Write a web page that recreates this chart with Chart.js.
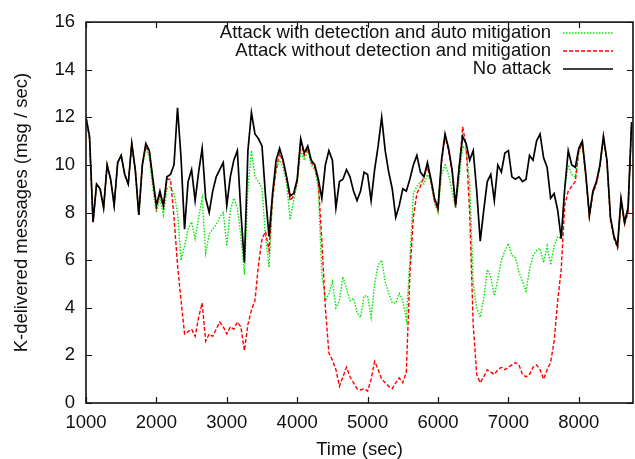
<!DOCTYPE html>
<html>
<head>
<meta charset="utf-8">
<script src="https://cdn.jsdelivr.net/npm/chart.js@4/dist/chart.umd.min.js"></script>
<style>
  html, body { margin: 0; padding: 0; background: #fff; }
  #wrap { width: 635px; height: 459px; }
</style>
</head>
<body>
<div id="wrap"><canvas id="msgChart"></canvas></div>
<script>
// samples every 50 s, starting at 1000 s
const timeStart = 1000;
const timeStep = 50;

const noAttack = [
  12.0, 11.2, 7.6, 9.2, 9.0, 8.2, 10.0, 9.4, 8.3, 10.1,
  10.4, 9.6, 9.2, 10.9, 9.8, 7.9, 10.0, 10.9, 10.6, 9.4,
  8.3, 8.9, 8.3, 9.5, 9.6, 10.0, 12.4, 10.3, 7.3, 9.3,
  9.8, 8.5, 9.7, 10.7, 8.6, 8.0, 8.9, 9.5, 9.8, 10.1,
  8.3, 9.5, 10.2, 10.6, 8.0, 5.9, 10.6, 12.2, 11.3, 11.1,
  10.8, 8.7, 7.0, 8.8, 10.2, 10.7, 10.2, 9.5, 8.7, 8.8,
  9.4, 11.1, 10.5, 10.8, 10.2, 10.0, 9.4, 8.6, 10.0, 10.6,
  10.2, 8.2, 9.3, 9.4, 9.8, 9.5, 8.9, 8.5, 8.9, 9.7,
  9.6, 8.5, 9.8, 10.8, 12.0, 10.6, 9.7, 9.0, 7.8, 8.3,
  9.0, 8.9, 9.4, 10.0, 10.4, 9.7, 9.5, 10.1, 9.4, 8.6,
  8.2, 10.2, 11.3, 10.7, 9.8, 8.3, 9.9, 11.2, 10.9, 10.2,
  10.6, 8.9, 6.8, 8.1, 9.3, 9.6, 8.5, 10.0, 9.7, 10.5,
  10.6, 9.5, 9.4, 9.5, 9.3, 9.4, 10.4, 10.2, 11.0, 11.3,
  10.3, 9.9, 8.6, 8.8, 8.1, 6.9, 9.0, 10.6, 10.0, 9.9,
  10.7, 11.0, 9.6, 7.9, 8.9, 9.3, 10.0, 11.2, 10.2, 7.8,
  7.0, 6.6, 8.6, 7.6, 8.2, 11.8
];

const withoutDetection = [
  12.0, 11.1, 7.6, 9.2, 9.0, 8.2, 10.0, 9.4, 8.3, 10.1,
  10.4, 9.6, 9.2, 10.9, 9.8, 7.9, 10.0, 10.8, 10.5, 9.3,
  8.2, 8.8, 8.2, 9.4, 9.4, 7.8, 5.8, 4.3, 2.9, 3.0,
  3.1, 2.8, 3.6, 4.2, 2.6, 2.9, 2.8, 3.1, 3.4, 3.2,
  2.9, 3.2, 3.1, 3.4, 3.2, 2.2, 3.3, 3.9, 4.3, 5.8,
  6.9, 7.2, 6.4, 8.6, 9.8, 10.5, 10.1, 9.4, 8.5, 8.7,
  9.3, 11.0, 10.4, 10.7, 10.1, 9.9, 9.3, 6.8, 4.0, 2.1,
  1.8, 1.4, 0.7, 1.1, 1.5, 1.1, 0.85, 0.6, 0.55, 0.6,
  0.5, 1.0, 1.75, 1.4, 1.0, 0.85, 0.7, 0.6, 0.85, 1.05,
  0.85, 1.3, 5.4, 7.8, 8.8, 9.1, 9.5, 9.9, 9.3, 8.5,
  8.1, 10.1, 11.2, 10.6, 9.7, 8.2, 9.8, 11.6, 10.8, 8.0,
  3.3, 1.2, 0.85, 1.1, 1.4, 1.3, 1.2, 1.4, 1.5, 1.4,
  1.5, 1.6, 1.7, 1.6, 1.2, 1.1, 1.2, 1.5, 1.6, 1.4,
  1.0, 1.4, 1.7, 2.6, 4.3, 5.6, 8.3, 8.9, 9.1, 9.3,
  10.6, 10.9, 9.5, 7.8, 8.8, 9.2, 9.9, 11.2, 10.1, 7.7,
  6.9, 6.5, 8.5, 7.5, 8.0, 11.7
];

const autoMitigation = [
  12.0, 11.2, 7.6, 9.2, 9.0, 8.2, 10.0, 9.4, 8.3, 10.1,
  10.4, 9.6, 9.2, 10.9, 9.8, 7.9, 9.9, 10.7, 10.3, 9.0,
  8.0, 8.6, 7.9, 9.0, 9.1, 8.8, 8.0, 6.0, 6.6, 7.3,
  7.6, 6.9, 7.8, 8.6, 6.3, 7.1, 7.3, 7.5, 7.8, 8.0,
  6.6, 8.1, 8.6, 8.2, 7.0, 5.4, 9.0, 10.6, 9.5, 9.3,
  9.0, 7.0, 5.7, 8.6, 9.8, 10.2, 9.9, 9.2, 7.7, 8.5,
  9.2, 10.6, 10.2, 10.6, 10.0, 9.8, 9.0, 5.4, 4.3, 4.6,
  5.1, 4.0, 4.3, 5.3, 4.8, 4.3, 4.4, 3.8, 3.6, 4.5,
  4.5, 3.6, 5.0, 5.8, 6.0, 5.1, 4.6, 4.2, 4.2, 4.6,
  4.3, 3.5, 6.0, 8.8, 9.1, 9.3, 9.2, 9.6, 9.3, 8.4,
  8.0, 9.6, 10.0, 9.6, 8.9, 8.2, 9.4, 10.8, 10.6, 9.3,
  5.0, 4.0, 3.6, 4.4, 5.6, 5.3, 4.5, 5.2, 6.0, 6.4,
  6.7, 6.2, 6.1, 5.5, 5.1, 4.7, 5.6, 6.2, 6.4, 6.5,
  5.9, 6.6, 5.8, 6.6, 7.0, 6.9, 9.0, 10.0, 9.6, 9.5,
  10.5, 10.9, 9.5, 7.8, 8.8, 9.2, 9.9, 11.1, 10.1, 7.7,
  6.9, 6.6, 8.5, 7.5, 8.1, 11.6
];

const xTicks = [1000, 2000, 3000, 4000, 5000, 6000, 7000, 8000];
const yTicks = [0, 2, 4, 6, 8, 10, 12, 14, 16];

const times = noAttack.map((_, i) => timeStart + i * timeStep);
const toPoints = arr => arr.map((v, i) => ({ x: times[i], y: v }));

const FONT = 'Liberation Sans, Arial, Helvetica, sans-serif';
const GREEN = '#00e600';
const RED = '#ff0000';

// gnuplot style: frame round the plot, ticks pointing inwards on all four sides
const frameTicks = {
    id: 'frameTicks',
    afterDatasetsDraw(chart) {
        const { ctx, chartArea: a, scales: { x, y } } = chart;
        const len = 6;
        ctx.save();
        ctx.strokeStyle = '#111';
        ctx.lineWidth = 1.2;
        ctx.beginPath();
        xTicks.forEach(t => {
            const px = Math.round(x.getPixelForValue(t)) + 0.5;
            ctx.moveTo(px, a.bottom); ctx.lineTo(px, a.bottom - len);
            ctx.moveTo(px, a.top); ctx.lineTo(px, a.top + len);
        });
        yTicks.forEach(t => {
            const py = Math.round(y.getPixelForValue(t)) + 0.5;
            ctx.moveTo(a.left, py); ctx.lineTo(a.left + len, py);
            ctx.moveTo(a.right, py); ctx.lineTo(a.right - len, py);
        });
        ctx.stroke();
        ctx.lineWidth = 1.6;
        ctx.strokeRect(a.left, a.top, a.right - a.left, a.bottom - a.top);
        ctx.restore();
    }
};

// key in the top right corner: text right aligned, line sample after it
const keyBox = {
    id: 'keyBox',
    afterDatasetsDraw(chart) {
        const ctx = chart.ctx;
        const textRight = 551;
        const lineFrom = 563, lineTo = 613;
        const rows = [
            { label: 'Attack with detection and auto mitigation', color: GREEN, dash: [1.5, 1.5], y: 33 },
            { label: 'Attack without detection and mitigation', color: RED, dash: [4, 2], y: 51 },
            { label: 'No attack', color: '#000000', dash: [], y: 69 }
        ];
        rows.forEach(r => {
            ctx.save();
            ctx.font = '18.5px ' + FONT;
            ctx.textAlign = 'right';
            ctx.textBaseline = 'middle';
            ctx.fillStyle = '#111';
            ctx.fillText(r.label, textRight, r.y);
            ctx.restore();

            ctx.save();
            ctx.beginPath();
            ctx.setLineDash(r.dash);
            ctx.lineWidth = 1.4;
            ctx.strokeStyle = r.color;
            ctx.moveTo(lineFrom, r.y);
            ctx.lineTo(lineTo, r.y);
            ctx.stroke();
            ctx.restore();
        });
    }
};

new Chart(document.getElementById('msgChart'), {
    type: 'line',
    data: {
        datasets: [
            { label: 'No attack', data: toPoints(noAttack), borderColor: '#000', borderWidth: 1.7 },
            { label: 'Attack without detection and mitigation', data: toPoints(withoutDetection), borderColor: RED, borderWidth: 1.4, borderDash: [4, 2] },
            { label: 'Attack with detection and auto mitigation', data: toPoints(autoMitigation), borderColor: GREEN, borderWidth: 1.4, borderDash: [1.5, 1.5] }
        ]
    },
    options: {
        responsive: true,
        maintainAspectRatio: false,
        animation: false,
        layout: { padding: { top: 17, right: 2, left: 0, bottom: 0 } },
        elements: { point: { radius: 0 }, line: { tension: 0, fill: false } },
        plugins: { legend: { display: false }, tooltip: { enabled: false } },
        scales: {
            x: {
                type: 'linear',
                min: 1000,
                max: 8770,
                afterBuildTicks: s => { s.ticks = xTicks.map(v => ({ value: v })); },
                afterFit: s => { s.height = 56; },
                grid: { display: false, drawTicks: false },
                border: { display: false },
                ticks: { color: '#111', padding: 9, maxRotation: 0, callback: v => String(v), font: { family: FONT, size: 18.5 } },
                title: { display: true, text: 'Time (sec)', color: '#111', padding: 0, font: { family: FONT, size: 18.5, lineHeight: 1 } }
            },
            y: {
                min: 0,
                max: 16,
                afterBuildTicks: s => { s.ticks = yTicks.map(v => ({ value: v })); },
                afterFit: s => { s.width = 86; },
                grid: { display: false, drawTicks: false },
                border: { display: false },
                ticks: { color: '#111', padding: 11, callback: v => String(v), font: { family: FONT, size: 18.5 } },
                title: { display: true, text: 'K-delivered messages (msg / sec)', color: '#111', padding: 13, font: { family: FONT, size: 18.5, lineHeight: 1 } }
            }
        }
    },
    plugins: [frameTicks, keyBox]
});
</script>
</body>
</html>
